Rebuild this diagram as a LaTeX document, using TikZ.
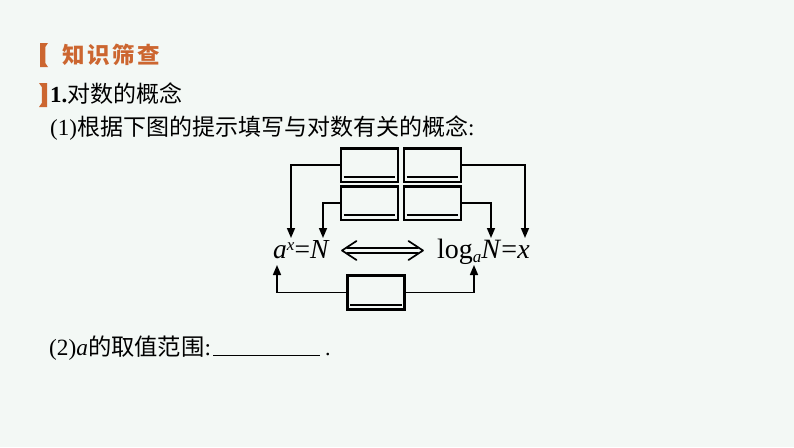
\documentclass[tikz,border=0pt]{standalone}
\usepackage{fontspec}
\setmainfont{Liberation Serif}
\newfontfamily\cjk{Noto Sans CJK SC}
\usetikzlibrary{arrows.meta,calc}
\definecolor{bgc}{RGB}{243,248,245}
\definecolor{orng}{RGB}{204,102,48}
\begin{document}
\begin{tikzpicture}[x=1pt,y=-1pt,
  blank/.style={draw,line width=2.6pt,minimum width=57pt,minimum height=33.6pt,inner sep=0pt},
  conn/.style={line width=1.6pt,-{Triangle[length=10pt,width=8pt]}},
  txt/.style={inner sep=0pt,anchor=base west},
  uline/.style={line width=1.8pt},
  dbl/.style={line width=1.7pt,line join=round,line cap=round}]
\fill[bgc] (0,0) rectangle (794,447);
\useasboundingbox (0,0) rectangle (794,447);

% heading brackets
\fill[orng] (40,43) -- (48,43) -- (45.3,47) -- (45.3,63) -- (48,67) -- (40,67) -- cycle;
\fill[orng] (47,83) -- (39,83) -- (41.8,87) -- (41.8,103) -- (39,107) -- (47,107) -- cycle;

\node[txt,text=orng] (title) at (62,63) {\fontsize{22.5}{26}\selectfont\cjk\bfseries 知\hspace{2.5pt}识\hspace{2.5pt}筛\hspace{2.5pt}查};
\node[txt] (sec) at (50,102) {\fontsize{23}{26}\selectfont\textbf{1.}\cjk 对数的概念};
\node[txt] (q1) at (50,135.5) {\fontsize{23}{26}\selectfont(1)\cjk 根据下图的提示填写与对数有关的概念\rmfamily:};
\node[txt] (q2) at (49,355.5) {\fontsize{23.3}{26}\selectfont(2)\textit{a}\cjk 的取值范围\rmfamily:};
\coordinate (u1) at (213,355);
\coordinate (u2) at (320,355);
\draw[line width=1pt] (u1) -- (u2);
\node[txt] (dot) at (325,355) {\fontsize{22}{25}\selectfont.};

% blank boxes
\node[blank] (b1) at (369.5,165) {};
\node[blank] (b2) at (432.5,165) {};
\node[blank] (b3) at (369.5,203) {};
\node[blank] (b4) at (432.5,203) {};
\node[blank] (b5) at (376,292.5) {};
\foreach \b in {b1,b2,b3,b4,b5}{
  \draw[uline] ($(\b.south west)+(4,-6)$) -- ($(\b.south east)+(-4,-6)$);
}

% formulas
\node[txt] (f1) at (273,258) {\fontsize{27.5}{30}\selectfont\textit{a}\raisebox{8pt}{\fontsize{17}{18}\selectfont\textit{x}}=\textit{N}};
\node[txt] (f2) at (437,258) {\fontsize{28}{30}\selectfont log\raisebox{-4pt}{\fontsize{17}{18}\selectfont\textit{a}}\textit{N}=\textit{x}};

% double arrow
\coordinate (dl) at (342,250.5);
\coordinate (dr) at (423,250.5);
\draw[dbl] ($(dl)+(14.5,-9.5)$) -- (dl) -- ($(dl)+(14.5,9.5)$);
\draw[dbl] ($(dr)+(-14.5,-9.5)$) -- (dr) -- ($(dr)+(-14.5,9.5)$);
\draw[dbl] ($(dl)+(5,-2.8)$) -- ($(dr)+(-5,-2.8)$);
\draw[dbl] ($(dl)+(5,2.8)$) -- ($(dr)+(-5,2.8)$);

% connectors
\coordinate (t1) at (291,238);
\coordinate (t3) at (323,238);
\coordinate (t2) at (525,238);
\coordinate (t4) at (491,238);
\coordinate (t5) at (277,265);
\coordinate (t6) at (474,265);
\draw[conn] (b1.west) -| (t1);
\draw[conn] (b3.west) -| (t3);
\draw[conn] (b2.east) -| (t2);
\draw[conn] (b4.east) -| (t4);
\draw[conn] (b5.west) -| (t5);
\draw[conn] (b5.east) -| (t6);
\end{tikzpicture}
\end{document}
